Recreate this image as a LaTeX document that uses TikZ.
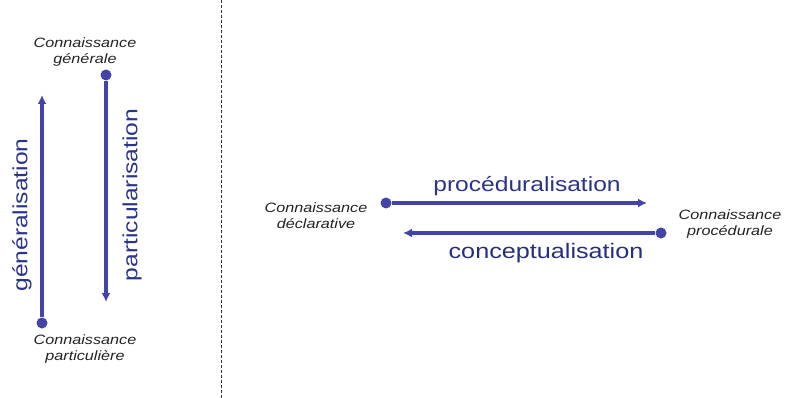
\documentclass[tikz,border=0pt]{standalone}
\usepackage{fontspec}
\setmainfont{Liberation Sans}
\newfontfamily\widesans[FakeStretch=1.2]{Liberation Sans}
\usetikzlibrary{arrows.meta}
\definecolor{arrowblue}{RGB}{68,68,168}
\definecolor{labelblue}{RGB}{42,52,138}
\definecolor{smalltext}{RGB}{35,35,35}
\begin{document}
\begin{tikzpicture}[x=1pt,y=-1pt,
  know/.style={font=\widesans\itshape\fontsize{13.5}{16}\selectfont, text=smalltext, align=center, inner sep=0pt},
  big/.style={font=\widesans\fontsize{20.5}{22}\selectfont, text=labelblue, inner sep=0pt},
  flow/.style={draw=arrowblue, line width=3.4pt, -{Latex[length=9pt,width=9pt]}},
  dot/.style={circle, fill=arrowblue, inner sep=0pt, minimum size=11pt},
  tip/.style={inner sep=0pt, minimum size=0pt}]
\useasboundingbox (0,0) rectangle (792,398);
% left part
\node[know] (gen) at (85,52) {Connaissance\\générale};
\node[know] (part) at (85,349) {Connaissance\\particulière};
\node[dot] (d1) at (42,323) {};
\coordinate (t1) at (42,95);
\draw[flow] (d1) -- (t1);
\node[dot] (d2) at (106,75) {};
\coordinate (t2) at (106,302);
\draw[flow] (d2) -- (t2);
\node[big, rotate=90] (lgen) at (22,215) {généralisation};
\node[big, rotate=90] (lpart) at (132,195) {particularisation};
% separator
\coordinate (s1) at (221,0);
\coordinate (s2) at (221,398);
\draw[densely dashed, line width=0.8pt, black!80] (s1) -- (s2);
% right part
\node[know] (decl) at (316,216) {Connaissance\\déclarative};
\node[know] (proc) at (730,224) {Connaissance\\procédurale};
\node[dot] (d3) at (386,203) {};
\coordinate (t3) at (647,203);
\draw[flow] (d3) -- (t3);
\node[dot] (d4) at (661,233) {};
\coordinate (t4) at (403,233);
\draw[flow] (d4) -- (t4);
\node[big] (lproc) at (527,186) {procéduralisation};
\node[big, font=\widesans\fontsize{21}{23}\selectfont, text=labelblue!90!black] (lconc) at (546,253) {conceptualisation};
\end{tikzpicture}
\end{document}
